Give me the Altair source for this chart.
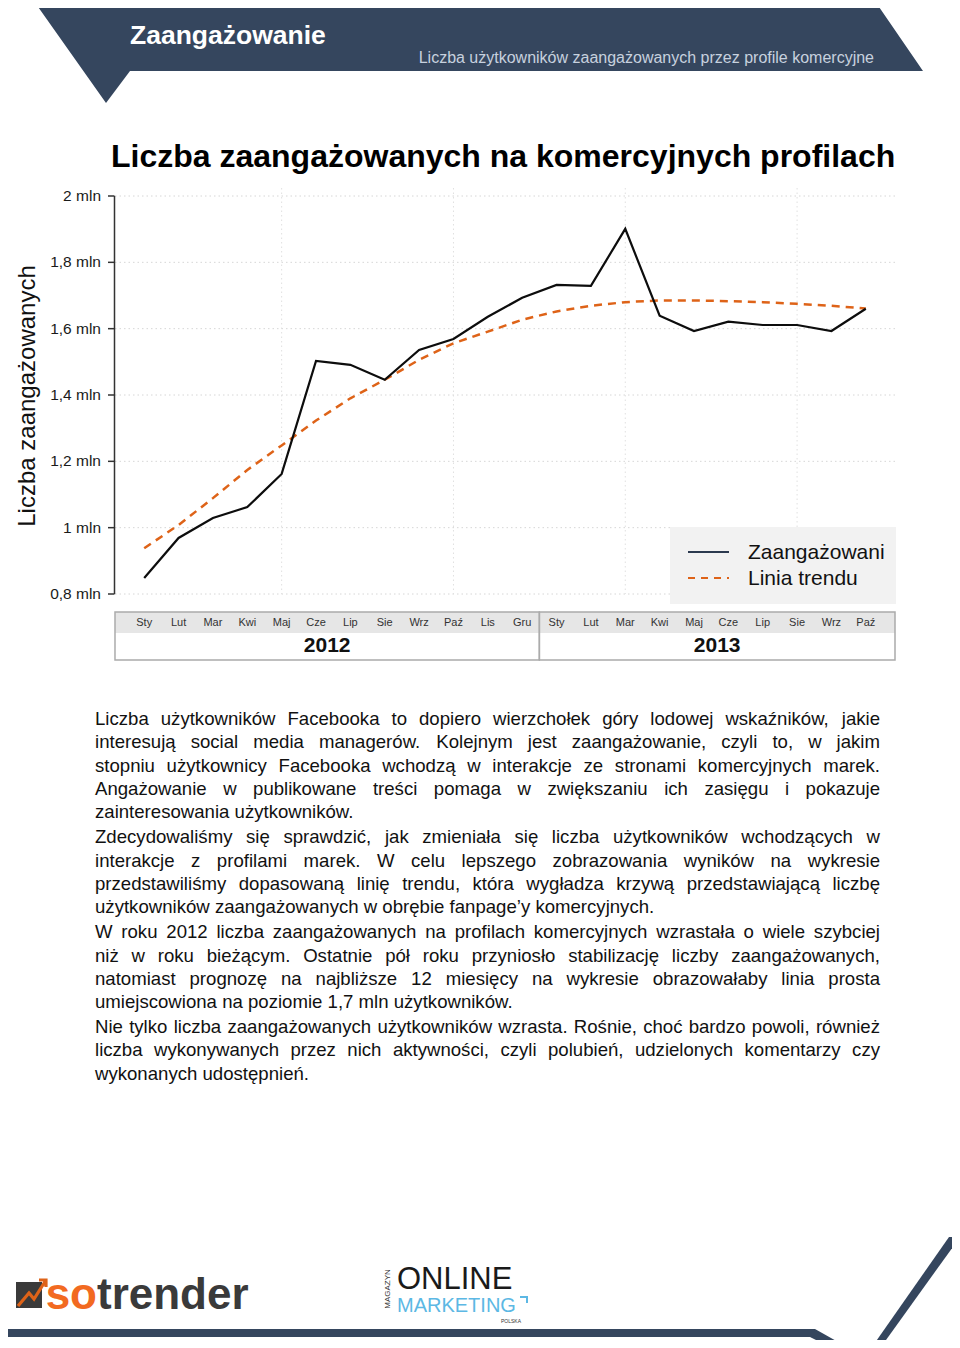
import altair as alt
import pandas as pd

# ---------------- data ----------------
months = ["Sty", "Lut", "Mar", "Kwi", "Maj", "Cze", "Lip", "Sie", "Wrz", "Paź", "Lis", "Gru",
          "Sty", "Lut", "Mar", "Kwi", "Maj", "Cze", "Lip", "Sie", "Wrz", "Paź"]
years = ["2012", "2013"]
engaged = [0.848, 0.969, 1.029, 1.062, 1.162, 1.503, 1.491, 1.446, 1.536, 1.569, 1.636, 1.693,
           1.732, 1.729, 1.901, 1.639, 1.593, 1.621, 1.611, 1.611, 1.593, 1.660]
trend = [0.938, 1.008, 1.089, 1.174, 1.248, 1.323, 1.390, 1.446, 1.506, 1.556, 1.591, 1.627,
         1.652, 1.669, 1.680, 1.685, 1.685, 1.683, 1.680, 1.675, 1.669, 1.661]
y_ticks = [0.8, 1.0, 1.2, 1.4, 1.6, 1.8, 2.0]
y_tick_labels = ["0,8 mln", "1 mln", "1,2 mln", "1,4 mln", "1,6 mln", "1,8 mln", "2 mln"]
grid_months = [4, 9, 14, 19]

header_title = "Zaangażowanie"
header_sub = "Liczba użytkowników zaangażowanych przez profile komercyjne"
chart_title = "Liczba zaangażowanych na komercyjnych profilach"
y_title = "Liczba zaangażowanych"
legend_labels = ["Zaangażowani", "Linia trendu"]

paragraphs = [
    ["Liczba użytkowników Facebooka to dopiero wierzchołek góry lodowej wskaźników, jakie",
     "interesują social media managerów. Kolejnym jest zaangażowanie, czyli to, w jakim",
     "stopniu użytkownicy Facebooka wchodzą w interakcje ze stronami komercyjnych marek.",
     "Angażowanie w publikowane treści pomaga w zwiększaniu ich zasięgu i pokazuje",
     "zainteresowania użytkowników."],
    ["Zdecydowaliśmy się sprawdzić, jak zmieniała się liczba użytkowników wchodzących w",
     "interakcje z profilami marek. W celu lepszego zobrazowania wyników na wykresie",
     "przedstawiliśmy dopasowaną linię trendu, która wygładza krzywą przedstawiającą liczbę",
     "użytkowników zaangażowanych w obrębie fanpage’y komercyjnych."],
    ["W roku 2012 liczba zaangażowanych na profilach komercyjnych wzrastała o wiele szybciej",
     "niż w roku bieżącym. Ostatnie pół roku przyniosło stabilizację liczby zaangażowanych,",
     "natomiast prognozę na najbliższe 12 miesięcy na wykresie obrazowałaby linia prosta",
     "umiejscowiona na poziomie 1,7 mln użytkowników."],
    ["Nie tylko liczba zaangażowanych użytkowników wzrasta. Rośnie, choć bardzo powoli, również",
     "liczba wykonywanych przez nich aktywności, czyli polubień, udzielonych komentarzy czy",
     "wykonanych udostępnień."],
]

# ---------------- style ----------------
FONT = "Liberation Sans, Arial, Helvetica, sans-serif"
NAVY = "#35465e"
ORANGE = "#de6318"

# Arial / Liberation Sans advance widths (1/1000 em) used for justified text layout
ARIAL = {' ': 278, ',': 278, '.': 278, '-': 333, '’': 222, "'": 191, ':': 278, ';': 278,
         'A': 667, 'B': 667, 'C': 722, 'D': 722, 'E': 667, 'F': 611, 'G': 778, 'H': 722, 'I': 278,
         'J': 500, 'K': 667, 'L': 556, 'M': 833, 'N': 722, 'O': 778, 'P': 667, 'Q': 778, 'R': 722,
         'S': 667, 'T': 611, 'U': 722, 'V': 667, 'W': 944, 'X': 667, 'Y': 667, 'Z': 611,
         'a': 556, 'b': 556, 'c': 500, 'd': 556, 'e': 556, 'f': 278, 'g': 556, 'h': 556, 'i': 222,
         'j': 222, 'k': 500, 'l': 222, 'm': 833, 'n': 556, 'o': 556, 'p': 556, 'q': 556, 'r': 333,
         's': 500, 't': 278, 'u': 556, 'v': 500, 'w': 722, 'x': 500, 'y': 500, 'z': 500,
         'ą': 556, 'ć': 500, 'ę': 556, 'ł': 222, 'ń': 556, 'ó': 556, 'ś': 500, 'ź': 500, 'ż': 500,
         'Ż': 611, 'Ś': 667, 'Ł': 556}


def tw(s, size):
    return sum(ARIAL.get(c, 556) for c in s) * size / 1000.0


FS = 18.6
TEXT_L, TEXT_R = 87, 872
TEXT_TOP, LINE_H, PARA_GAP = 711, 23.35, 1.5

rows = []
line_no = 0
for p, lines in enumerate(paragraphs):
    for k, line in enumerate(lines):
        words = line.split()
        widths = [tw(w, FS) for w in words]
        yc = TEXT_TOP + LINE_H * line_no + PARA_GAP * p
        if k == len(lines) - 1 or len(words) < 2:
            gap = tw(" ", FS)
        else:
            gap = (TEXT_R - TEXT_L - sum(widths)) / (len(words) - 1)
        x = TEXT_L
        for w, wd in zip(words, widths):
            rows.append({"word": w, "x": x, "y": yc})
            x += wd + gap
        line_no += 1
words_df = pd.DataFrame(rows)

one = pd.DataFrame({"k": [0]})
df = pd.DataFrame({"idx": list(range(len(months))), "month": months,
                   "engaged": engaged, "trend": trend})
ticks_df = pd.DataFrame({"tick": y_ticks, "lab": y_tick_labels})
span_df = pd.DataFrame({"lo": [min(y_ticks)], "hi": [max(y_ticks)]})
split = 12 - 0.5
XMIN, XMAX = -0.85, 21.85
years_df = pd.DataFrame({"year": years, "start": [XMIN, split], "end": [split, XMAX]})
years_df["mid"] = (years_df["start"] + years_df["end"]) / 2

XS = alt.Scale(domain=[XMIN, XMAX], range=[107, 887], nice=False, zero=False)
YS = alt.Scale(domain=[0.8, 2.0], range=[586, 188], nice=False, zero=False)


def shape(path, color, filled=True, sw=0.0):
    kw = dict(shape=path, size=4, filled=filled, color=color, opacity=1, strokeWidth=sw)
    return alt.Chart(one).mark_point(**kw).encode(x=alt.value(0), y=alt.value(0))


def label(txt, x, y, size, color="#111111", weight="normal", align="left",
          baseline="alphabetic", angle=0, font=FONT):
    kw = dict(text=txt, fontSize=size, color=color, fontWeight=weight, align=align,
              baseline=baseline, font=font)
    if angle:
        kw["angle"] = angle
    return alt.Chart(one).mark_text(**kw).encode(x=alt.value(x), y=alt.value(y))


# ---------------- header ----------------
header_shape = shape("M28,-4L869,-4L915,63L122,63L98,95Z", NAVY)
header_t = label(header_title, 122, 36, 26.5, color="white", weight="bold")
header_s = label(header_sub, 866, 55, 16, color="#c7d1de", align="right")
title_t = label(chart_title, 103, 159, 32, color="#000000", weight="bold")
ytitle_t = label(y_title, 20, 388, 24, color="#111111", align="center", baseline="middle", angle=270)

# ---------------- chart ----------------
grid_h = alt.Chart(ticks_df).mark_rule(
    color="#d6d6d6", strokeDash=[1.5, 3], strokeWidth=1
).encode(y=alt.Y("tick:Q", scale=YS, axis=None), x=alt.value(107), x2=alt.value(887))
grid_v = alt.Chart(pd.DataFrame({"g": grid_months})).mark_rule(
    color="#e0e0e0", strokeDash=[1.5, 3], strokeWidth=1
).encode(x=alt.X("g:Q", scale=XS, axis=None), y=alt.value(180), y2=alt.value(586))

# y axis (domain line, ticks, labels) drawn through the y scale
y_domain = alt.Chart(span_df).mark_rule(color="#333333", strokeWidth=1.5).encode(
    x=alt.value(106.5), y=alt.Y("lo:Q", scale=YS, axis=None), y2="hi:Q")
y_tickmarks = alt.Chart(ticks_df).mark_rule(color="#333333", strokeWidth=1.5).encode(
    x=alt.value(100), x2=alt.value(106.5), y=alt.Y("tick:Q", scale=YS, axis=None))
y_labels = alt.Chart(ticks_df).mark_text(align="right", baseline="middle", fontSize=15.5,
                                         font=FONT, color="#1a1a1a").encode(
    x=alt.value(93), y=alt.Y("tick:Q", scale=YS, axis=None), text="lab:N")

trend_line = alt.Chart(df).mark_line(color=ORANGE, strokeWidth=2.5, strokeDash=[8, 6]).encode(
    x=alt.X("idx:Q", scale=XS, axis=None), y=alt.Y("trend:Q", scale=YS, axis=None))
eng_line = alt.Chart(df).mark_line(color="#0d0d0d", strokeWidth=2.2).encode(
    x=alt.X("idx:Q", scale=XS, axis=None), y=alt.Y("engaged:Q", scale=YS, axis=None))

strip = alt.Chart(one).mark_rect(color="#e6e6e6").encode(
    x=alt.value(107), x2=alt.value(887), y=alt.value(604), y2=alt.value(625))
year_boxes = alt.Chart(years_df).mark_rect(fillOpacity=0, stroke="#ababab", strokeWidth=1.5).encode(
    x=alt.X("start:Q", scale=XS, axis=None), x2="end:Q", y=alt.value(604), y2=alt.value(652))
month_t = alt.Chart(df).mark_text(fontSize=11, font=FONT, color="#333333", baseline="middle").encode(
    x=alt.X("idx:Q", scale=XS, axis=None), y=alt.value(615), text="month:N")
year_t = alt.Chart(years_df).mark_text(fontSize=21, font=FONT, fontWeight="bold", color="#111111",
                                        baseline="middle").encode(
    x=alt.X("mid:Q", scale=XS, axis=None), y=alt.value(638), text="year:N")

# legend
leg_box = alt.Chart(one).mark_rect(color="#f2f2f2").encode(
    x=alt.value(662), x2=alt.value(888), y=alt.value(519), y2=alt.value(596))
leg_l1 = alt.Chart(one).mark_rule(color="#2c3a4f", strokeWidth=2).encode(
    x=alt.value(680), x2=alt.value(721), y=alt.value(544))
leg_l2 = alt.Chart(one).mark_rule(color=ORANGE, strokeWidth=2.2, strokeDash=[7, 6]).encode(
    x=alt.value(680), x2=alt.value(721), y=alt.value(570))
leg_t1 = label(legend_labels[0], 740, 545, 21, baseline="middle")
leg_t2 = label(legend_labels[1], 740, 571, 21, baseline="middle")

# ---------------- body text ----------------
body = alt.Chart(words_df).mark_text(align="left", baseline="middle", fontSize=FS, font=FONT,
                                     color="#111111").encode(
    x=alt.X("x:Q", scale=None), y=alt.Y("y:Q", scale=None), text="word:N")

# ---------------- footer ----------------
foot_band = shape("M-8,1321L807,1321L839,1339L822,1339L802,1329L-8,1329Z", NAVY)
foot_stripe = shape("M941,1229L952,1229L873,1339L864,1339Z", NAVY)
icon_box = shape("M8,1274L34,1274L34,1300L8,1300Z", "#3a3a3a")
icon_arrow = shape("M10,1298L21,1285L26,1291L38,1272M31,1272L38,1272L38,1279", ORANGE,
                   filled=False, sw=3.2)
so_t = label("so", 89, 1301, 44, color="#f26a21", weight="bold", align="right")
trender_t = label("trender", 89, 1301, 44, color="#3a3a3a", weight="bold")
online_t = label("ONLINE", 389, 1281, 31, color="#1a1a1a")
marketing_t = label("MARKETING", 389, 1304, 20, color="#5cb8e4")
magazyn_t = label("MAGAZYN", 380, 1281, 8, color="#333333", align="center", baseline="middle",
                  angle=270)
polska_t = label("POLSKA", 503, 1313, 5, color="#333333", align="center", baseline="middle")
bracket = shape("M512,1289L519,1289L519,1295", "#5cb8e4", filled=False, sw=2)

chart = alt.layer(
    header_shape, header_t, header_s, title_t, ytitle_t,
    grid_h, grid_v, y_domain, y_tickmarks, y_labels,
    strip, year_boxes, month_t, year_t,
    trend_line, eng_line,
    leg_box, leg_l1, leg_l2, leg_t1, leg_t2,
    body,
    foot_band, foot_stripe, icon_box, icon_arrow, so_t, trender_t,
    online_t, marketing_t, magazyn_t, polska_t, bracket,
).properties(
    width=944, height=1332, padding=0,
    autosize=alt.AutoSizeParams(type="none"),
).configure_view(strokeWidth=0)

chart.save("out.html", embed_options={"renderer": "svg", "actions": False})
